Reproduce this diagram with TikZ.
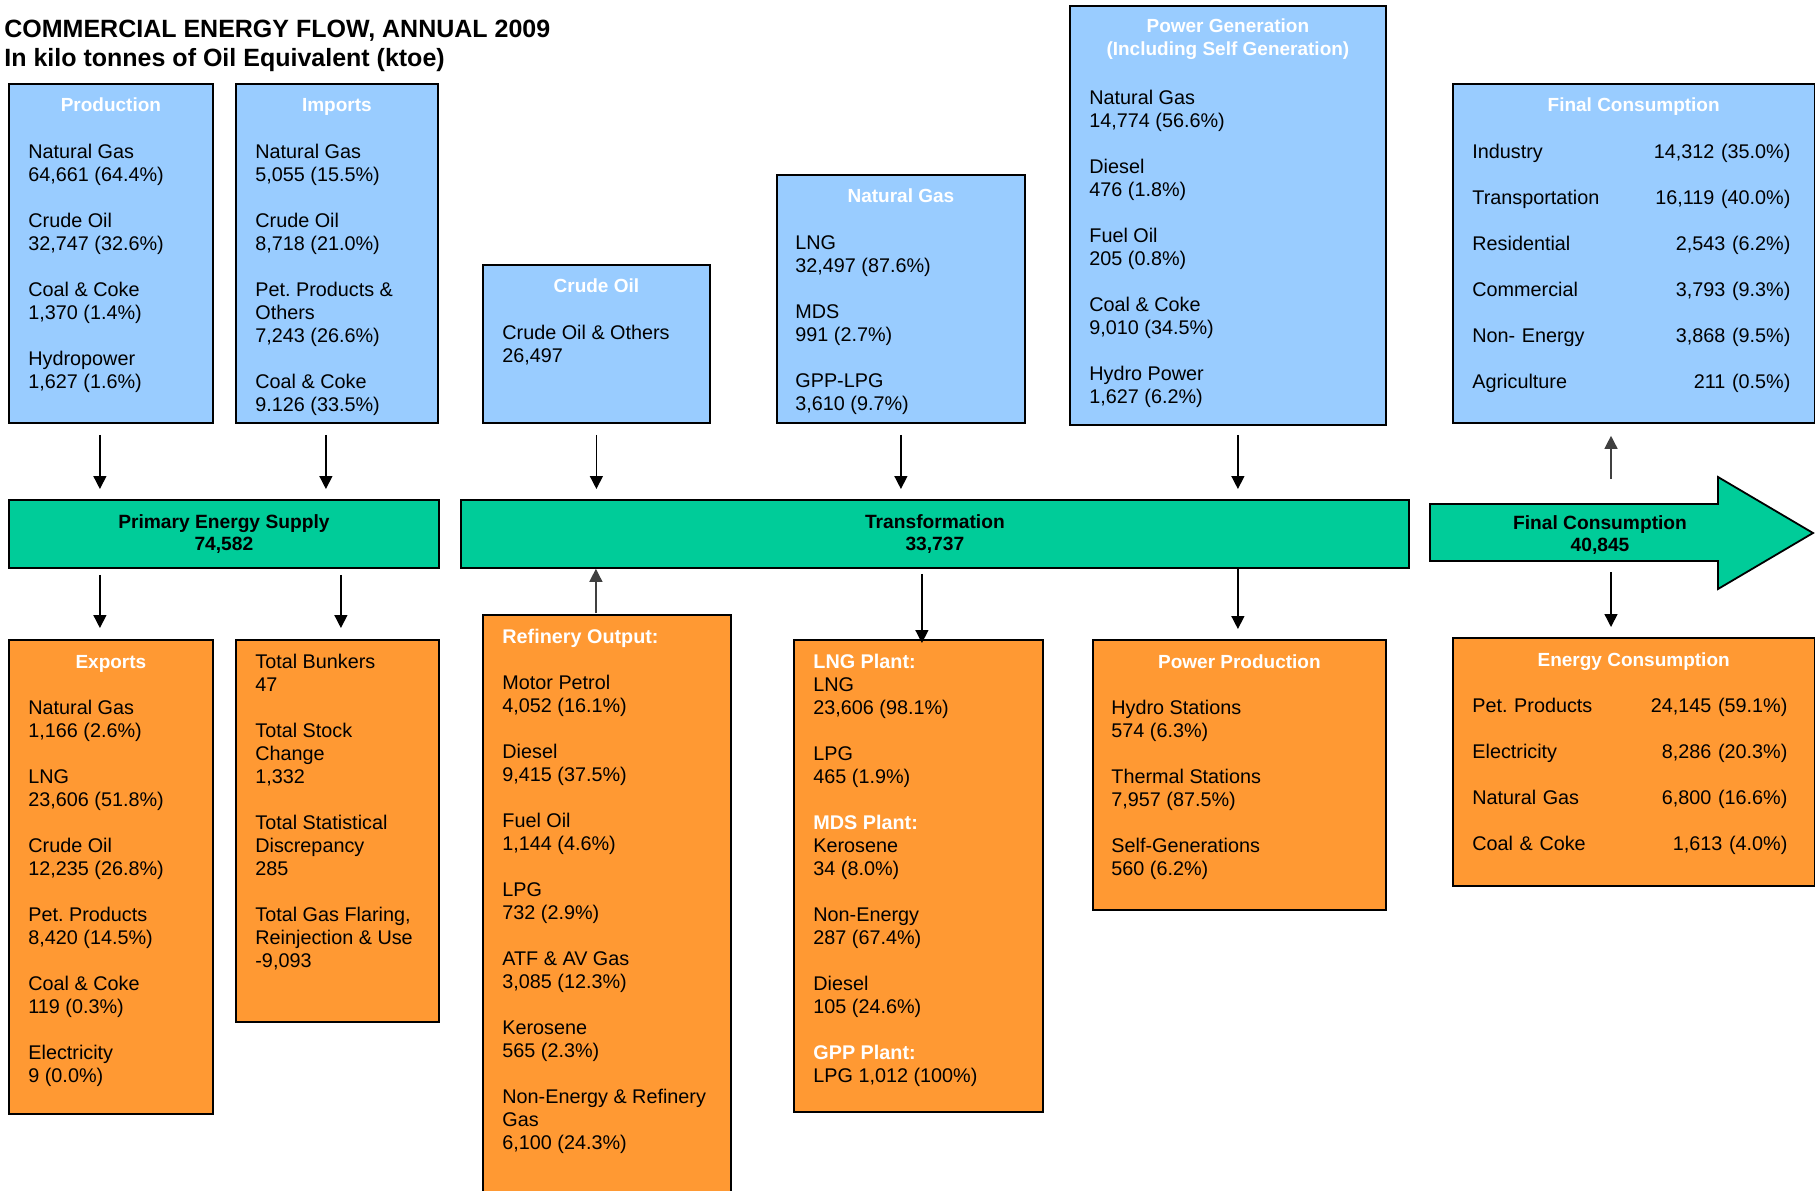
\documentclass[tikz,border=0pt]{standalone}
\usepackage{fontspec}
\setmainfont{Liberation Sans}
\usetikzlibrary{positioning, arrows.meta}
\definecolor{skyblue}{RGB}{153,204,255}
\definecolor{amber}{RGB}{255,153,51}
\definecolor{jade}{RGB}{0,204,153}

\tikzset{
  panel/.style={draw, line width=0.9pt, anchor=north west, inner sep=0pt},
  supply/.style={panel, fill=skyblue},
  outcome/.style={panel, fill=amber},
  band/.style={panel, fill=jade, align=center, font=\fontsize{9.6}{11}\selectfont\bfseries},
  head/.style={anchor=north, inner sep=0pt, text=white, align=center, font=\fontsize{9.5}{11.5}\selectfont\bfseries, execute at begin node=\strut},
  body/.style={anchor=north west, inner sep=0pt, align=left, font=\fontsize{9.9}{11.5}\selectfont, execute at begin node=\strut},
  flow/.style={-{Triangle[width=6.5pt,length=6.5pt]}, line width=0.7pt, shorten <=5.5pt, shorten >=5pt},
  lift/.style={flow, draw=black!75, fill=black!75}
}

\begin{document}
\begin{tikzpicture}[x=0.5pt, y=-0.5pt]
\useasboundingbox (0,0) rectangle (1819,1190);
\node (heading) [anchor=north west, inner sep=0pt, align=left, font=\fontsize{12.5}{14.5}\selectfont\bfseries, execute at begin node=\strut] at (4,19.5) {COMMERCIAL ENERGY FLOW, ANNUAL 2009\\In kilo tonnes of Oil Equivalent (ktoe)};

\node (prod) [supply, minimum width=102pt, minimum height=169.5pt] at (8,83) {};
\node (imp) [supply, minimum width=101pt, minimum height=169.5pt] at (235,83) {};
\node (crude) [supply, minimum width=113.5pt, minimum height=79pt] at (482,264) {};
\node (ng) [supply, minimum width=124pt, minimum height=124pt] at (776,174) {};
\node (pg) [supply, minimum width=158pt, minimum height=209.5pt] at (1069,5) {};
\node (fc) [supply, minimum width=180.75pt, minimum height=169.5pt] at (1452,83) {};

\node (pes) [band, minimum width=215pt, minimum height=34pt] at (8,499) {Primary Energy Supply\\74,582};
\node (trans) [band, minimum width=474pt, minimum height=34pt] at (460,499) {Transformation\\33,737};
\draw [fill=jade, line width=0.9pt] (1430,504) -- (1718,504) -- (1718,477) -- (1813,533) -- (1718,589) -- (1718,561) -- (1430,561) -- cycle;
\node (fcband) [align=center, inner sep=0pt, font=\fontsize{9.6}{11}\selectfont\bfseries] at (1600,535) {Final Consumption\\40,845};
\coordinate (fcup) at (1611,479);
\coordinate (fcdown) at (1611,572);

\node (exp) [outcome, minimum width=102pt, minimum height=237pt] at (8,639) {};
\node (bunk) [outcome, minimum width=101.5pt, minimum height=191pt] at (235,639) {};
\node (ref) [outcome, minimum width=124pt, minimum height=300pt] at (482,614) {};
\node (lng) [outcome, minimum width=124.5pt, minimum height=236pt] at (793,639) {};
\node (pp) [outcome, minimum width=146.5pt, minimum height=135pt] at (1092,639) {};
\node (ec) [outcome, minimum width=180.75pt, minimum height=124pt] at (1452,637) {};

\node (prodhead) [head] at ([yshift=-6.2pt]prod.north) {Production};
\node (prodlist) [body] at ([xshift=10pt,yshift=-30.6pt]prod.north west) {Natural Gas\\64,661 (64.4\%)\\[11.5pt]Crude Oil\\32,747 (32.6\%)\\[11.5pt]Coal \& Coke\\1,370 (1.4\%)\\[11.5pt]Hydropower\\1,627 (1.6\%)};
\node (imphead) [head] at ([yshift=-6.2pt]imp.north) {Imports};
\node (implist) [body] at ([xshift=10pt,yshift=-30.6pt]imp.north west) {Natural Gas\\5,055 (15.5\%)\\[11.5pt]Crude Oil\\8,718 (21.0\%)\\[11.5pt]Pet.\ Products \&\\Others\\7,243 (26.6\%)\\[11.5pt]Coal \& Coke\\9.126 (33.5\%)};
\node (crudehead) [head] at ([yshift=-6.2pt]crude.north) {Crude Oil};
\node (crudelist) [body] at ([xshift=10pt,yshift=-30.6pt]crude.north west) {Crude Oil \& Others\\26,497};
\node (nghead) [head] at ([yshift=-6.2pt]ng.north) {Natural Gas};
\node (nglist) [body] at ([xshift=9.5pt,yshift=-30.6pt]ng.north west) {LNG\\32,497 (87.6\%)\\[11.5pt]MDS\\991 (2.7\%)\\[11.5pt]GPP-LPG\\3,610 (9.7\%)};
\node (pghead) [head] at ([yshift=-6.45pt]pg.north) {Power Generation\\(Including Self Generation)};
\node (pglist) [body] at ([xshift=10pt,yshift=-42.3pt]pg.north west) {Natural Gas\\14,774 (56.6\%)\\[11.5pt]Diesel\\476 (1.8\%)\\[11.5pt]Fuel Oil\\205 (0.8\%)\\[11.5pt]Coal \& Coke\\9,010 (34.5\%)\\[11.5pt]Hydro Power\\1,627 (6.2\%)};
\node (fchead) [head] at ([yshift=-6.2pt]fc.north) {Final Consumption};
\node (fclist) [body, text width=159pt] at ([xshift=10pt,yshift=-29.5pt]fc.north west) {Industry\hfill 14,312 (35.0\%)\\[11.5pt]Transportation\hfill 16,119 (40.0\%)\\[11.5pt]Residential\hfill 2,543 (6.2\%)\\[11.5pt]Commercial\hfill 3,793 (9.3\%)\\[11.5pt]Non- Energy\hfill 3,868 (9.5\%)\\[11.5pt]Agriculture\hfill 211 (0.5\%)};

\node (exphead) [head] at ([yshift=-6.45pt]exp.north) {Exports};
\node (explist) [body] at ([xshift=10pt,yshift=-30.6pt]exp.north west) {Natural Gas\\1,166 (2.6\%)\\[11.5pt]LNG\\23,606 (51.8\%)\\[11.5pt]Crude Oil\\12,235 (26.8\%)\\[11.5pt]Pet.\ Products\\8,420 (14.5\%)\\[11.5pt]Coal \& Coke\\119 (0.3\%)\\[11.5pt]Electricity\\9 (0.0\%)};
\node (bunklist) [body] at ([xshift=10pt,yshift=-7.6pt]bunk.north west) {Total Bunkers\\47\\[11.5pt]Total Stock\\Change\\1,332\\[11.5pt]Total Statistical\\Discrepancy\\285\\[11.5pt]Total Gas Flaring,\\Reinjection \& Use\\-9,093};
\node (reflist) [body] at ([xshift=10pt,yshift=-7.6pt]ref.north west) {{\color{white}\bfseries Refinery Output:}\\[11.5pt]Motor Petrol\\4,052 (16.1\%)\\[11.5pt]Diesel\\9,415 (37.5\%)\\[11.5pt]Fuel Oil\\1,144 (4.6\%)\\[11.5pt]LPG\\732 (2.9\%)\\[11.5pt]ATF \& AV Gas\\3,085 (12.3\%)\\[11.5pt]Kerosene\\565 (2.3\%)\\[11.5pt]Non-Energy \& Refinery\\Gas\\6,100 (24.3\%)};
\node (lnglist) [body] at ([xshift=10pt,yshift=-7.6pt]lng.north west) {{\color{white}\bfseries LNG Plant:}\\LNG\\23,606 (98.1\%)\\[11.5pt]LPG\\465 (1.9\%)\\[11.5pt]{\color{white}\bfseries MDS Plant:}\\Kerosene\\34 (8.0\%)\\[11.5pt]Non-Energy\\287 (67.4\%)\\[11.5pt]Diesel\\105 (24.6\%)\\[11.5pt]{\color{white}\bfseries GPP Plant:}\\LPG 1,012 (100\%)};
\node (pphead) [head] at ([yshift=-6.45pt]pp.north) {Power Production};
\node (pplist) [body] at ([xshift=9.5pt,yshift=-30.6pt]pp.north west) {Hydro Stations\\574 (6.3\%)\\[11.5pt]Thermal Stations\\7,957 (87.5\%)\\[11.5pt]Self-Generations\\560 (6.2\%)};
\node (echead) [head] at ([yshift=-6.45pt]ec.north) {Energy Consumption};
\node (eclist) [body, text width=157.5pt] at ([xshift=10pt,yshift=-29.7pt]ec.north west) {Pet.\ Products\hfill 24,145 (59.1\%)\\[11.5pt]Electricity\hfill 8,286 (20.3\%)\\[11.5pt]Natural Gas\hfill 6,800 (16.6\%)\\[11.5pt]Coal \& Coke\hfill 1,613 (4.0\%)};

\draw [flow] ([xshift=-5.5pt]prod.south) -- ([xshift=-5.5pt]prod.south |- pes.north);
\draw [flow] ([xshift=-5.5pt]imp.south) -- ([xshift=-5.5pt]imp.south |- pes.north);
\draw [flow] (crude.south) -- (crude.south |- trans.north);
\draw [flow] (ng.south) -- (ng.south |- trans.north);
\draw [flow, shorten <=4.5pt] ([xshift=5pt]pg.south) -- ([xshift=5pt]pg.south |- trans.north);
\draw [flow, shorten <=3pt, shorten >=5.5pt] ([xshift=-5.5pt]exp.north |- pes.south) -- ([xshift=-5.5pt]exp.north);
\draw [flow, shorten <=3pt, shorten >=5.5pt] ([xshift=1.75pt]bunk.north |- pes.south) -- ([xshift=1.75pt]bunk.north);
\draw [lift, shorten <=0.5pt, shorten >=0pt] ([xshift=-5.5pt]ref.north) -- ([xshift=-5.5pt]ref.north |- trans.south);
\draw [flow, shorten <=2.5pt, shorten >=-2pt] ([xshift=1.75pt]lng.north |- trans.south) -- ([xshift=1.75pt]lng.north);
\draw [flow, shorten <=0pt] ([xshift=-0.75pt]pp.north |- trans.south) -- ([xshift=-0.75pt]pp.north);
\draw [lift, shorten <=0pt, shorten >=6pt] (fcup) -- (fcup |- fc.south);
\draw [flow, shorten <=0pt] (fcdown) -- (fcdown |- ec.north);
\end{tikzpicture}
\end{document}
